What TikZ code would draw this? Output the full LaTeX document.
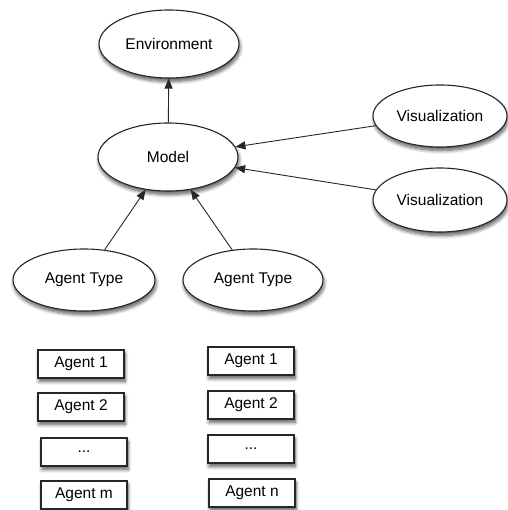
\documentclass[tikz,border=0pt]{standalone}
\usepackage{fontspec}
\setmainfont{Liberation Sans}
\usetikzlibrary{shapes.geometric,shadows.blur,arrows.meta}
\begin{document}
\begin{tikzpicture}[x=1pt,y=-1pt,
  font=\fontsize{15.5}{18}\selectfont,
  shade/.style={blur shadow={shadow xshift=1pt,shadow yshift=-3.5pt,shadow blur radius=3.5pt,shadow blur steps=8,shadow opacity=65}},
  oval/.style={ellipse,draw=black!85,line width=1.1pt,fill=white,inner sep=0pt,
    minimum width=140pt,minimum height=68pt,shade},
  agentbox/.style={rectangle,draw=black!85,line width=1.1pt,fill=white,inner sep=0pt,
    minimum width=86pt,minimum height=28pt,shade},
  arr/.style={-{Triangle[length=10pt,width=8pt]},line width=0.9pt,draw=black!85}]
\useasboundingbox (0,0) rectangle (507,510);

% upper part: environment, model, visualisations
\node[oval] (env) at (169,44) {Environment};
\node[oval] (model) at (168,157) {Model};
\node[oval,minimum width=134pt,minimum height=62pt] (vis1) at (440,116) {Visualization};
\node[oval,minimum width=134pt,minimum height=64pt] (vis2) at (440,200) {Visualization};

% agent types
\node[oval,minimum width=142pt,minimum height=62pt] (type1) at (84,280) {Agent Type};
\node[oval,minimum width=140pt,minimum height=62pt] (type2) at (253,280) {Agent Type};

% connectors
\draw[arr] (model) -- (env);
\draw[arr] (vis1) -- (model);
\draw[arr] (vis2) -- (model);
\draw[arr] (type1) -- (model);
\draw[arr] (type2) -- (model);

% agents of the first type
\node[agentbox] (a1) at (81,364) {Agent 1};
\node[agentbox] (a2) at (81,407) {Agent 2};
\node[agentbox] (a3) at (84,452) {...};
\node[agentbox] (am) at (84,495) {Agent m};

% agents of the second type
\node[agentbox] (b1) at (251,361) {Agent 1};
\node[agentbox] (b2) at (251,405) {Agent 2};
\node[agentbox] (b3) at (251,449) {...};
\node[agentbox] (bn) at (252,493) {Agent n};
\end{tikzpicture}
\end{document}
